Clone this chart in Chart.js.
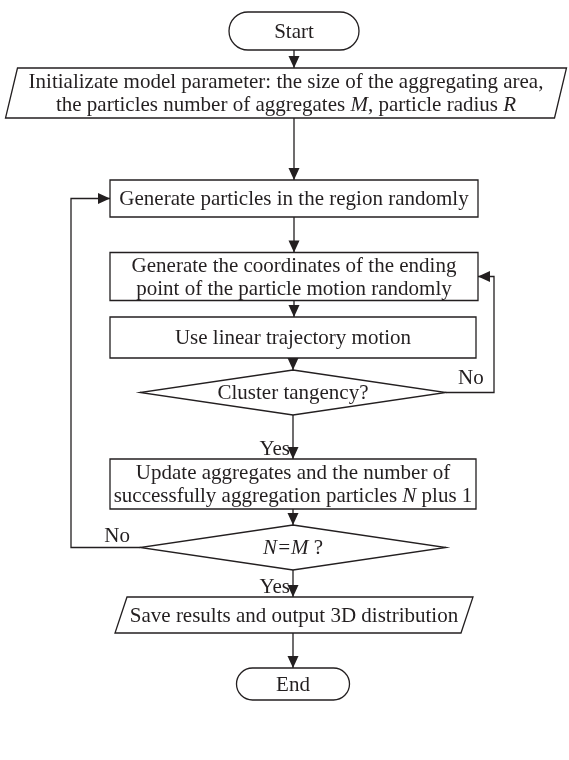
<!DOCTYPE html>
<html>
<head>
<meta charset="utf-8">
<script src="https://cdn.jsdelivr.net/npm/chart.js@4.4.0/dist/chart.umd.min.js"></script>
<style>
  html, body { margin: 0; padding: 0; background: #fff; }
  #wrap { width: 569px; height: 760px; }
</style>
</head>
<body>
<div id="wrap"><canvas id="myChart" width="569" height="760"></canvas></div>
<script>
'use strict';

// steps of the flowchart, top to bottom (_x_ = italic)
let stepLabels = [
  ['Start'],
  ['Initializate model parameter: the size of the aggregating area,', 'the particles number of aggregates _M_, particle radius _R_'],
  ['Generate particles in the region randomly'],
  ['Generate the coordinates of the ending', 'point of the particle motion randomly'],
  ['Use linear trajectory motion'],
  ['Cluster tangency?'],
  ['Update aggregates and the number of', 'successfully aggregation particles _N_ plus 1'],
  ['_N=M_ ?'],
  ['Save results and output 3D distribution'],
  ['End']
];
let stepKinds = ['term', 'io', 'box', 'box', 'box', 'dec', 'box', 'dec', 'io', 'term'];

// links between steps: [from, to, branch label]
let linkFrom = [0, 1, 2, 3, 4, 5, 6, 7, 8, 5, 7];
let linkTo = [1, 2, 3, 4, 5, 6, 7, 8, 9, 3, 2];
let linkText = ['', '', '', '', '', 'Yes', '', 'Yes', '', 'No', 'No'];

// layout (chart units = pixels)
let layoutX = [294, 286, 294, 294, 293, 293, 293, 293, 294, 293];
let layoutY = [31, 93, 198.5, 276.5, 337.5, 392.5, 484, 547.5, 615, 684];
let layoutW = [130, 561, 368, 368, 366, 306, 366, 306, 358, 113];
let layoutH = [38, 50, 37, 48, 41, 45, 50, 45, 36, 32];
let loopX = { 9: 494, 10: 71 };

const INK = '#231f20';
const FONT = '21px "Liberation Serif", "Times New Roman", serif';
const IFONT = 'italic 21px "Liberation Serif", "Times New Roman", serif';

function buildLinks() {
  let sets = [];
  for (let i = 0; i < linkFrom.length; i++) {
    let a = linkFrom[i], b = linkTo[i];
    let pts;
    if (loopX[i] === undefined) {
      let ax = linkAxis(a, b);
      pts = [
        { x: ax, y: layoutY[a] + layoutH[a] / 2 },
        { x: ax, y: layoutY[b] - layoutH[b] / 2 }
      ];
    } else {
      let lx = loopX[i];
      let right = lx > layoutX[a];
      let sx = right ? layoutX[a] + layoutW[a] / 2 : layoutX[a] - layoutW[a] / 2;
      let ex = right ? layoutX[b] + layoutW[b] / 2 : layoutX[b] - layoutW[b] / 2;
      pts = [
        { x: sx, y: layoutY[a] },
        { x: lx, y: layoutY[a] },
        { x: lx, y: layoutY[b] },
        { x: ex, y: layoutY[b] }
      ];
    }
    sets.push({
      type: 'scatter',
      data: pts,
      showLine: true,
      borderColor: INK,
      borderWidth: 1.3,
      pointRadius: 0,
      tension: 0,
      linkIndex: i
    });
  }
  return sets;
}

// vertical links follow the centre of the narrower shape
function linkAxis(a, b) {
  return stepKinds[a] === 'io' ? layoutX[b] : layoutX[a];
}

function richWidth(ctx, line) {
  let parts = line.split('_');
  let w = 0;
  for (let k = 0; k < parts.length; k++) {
    ctx.font = k % 2 ? IFONT : FONT;
    w += ctx.measureText(parts[k]).width;
  }
  return w;
}

function drawRich(ctx, line, cx, cy) {
  let parts = line.split('_');
  let x = cx - richWidth(ctx, line) / 2;
  ctx.textBaseline = 'middle';
  ctx.textAlign = 'left';
  for (let k = 0; k < parts.length; k++) {
    ctx.font = k % 2 ? IFONT : FONT;
    ctx.fillText(parts[k], x, cy);
    x += ctx.measureText(parts[k]).width;
  }
}

const flowPlugin = {
  id: 'flow',
  afterDatasetsDraw(chart) {
    let ctx = chart.ctx;
    let xs = chart.scales.x, ys = chart.scales.y;
    ctx.save();
    ctx.strokeStyle = INK;
    ctx.fillStyle = INK;
    ctx.lineWidth = 1.3;

    // arrow heads
    chart.data.datasets.forEach(function (ds) {
      if (ds.linkIndex === undefined) return;
      let n = ds.data.length;
      let p1 = ds.data[n - 2], p2 = ds.data[n - 1];
      let x1 = xs.getPixelForValue(p1.x), y1 = ys.getPixelForValue(p1.y);
      let x2 = xs.getPixelForValue(p2.x), y2 = ys.getPixelForValue(p2.y);
      let ang = Math.atan2(y2 - y1, x2 - x1);
      let len = 12, half = 5.5;
      ctx.beginPath();
      ctx.moveTo(x2, y2);
      ctx.lineTo(x2 - len * Math.cos(ang) + half * Math.sin(ang), y2 - len * Math.sin(ang) - half * Math.cos(ang));
      ctx.lineTo(x2 - len * Math.cos(ang) - half * Math.sin(ang), y2 - len * Math.sin(ang) + half * Math.cos(ang));
      ctx.closePath();
      ctx.fill();
    });

    // shapes
    for (let i = 0; i < stepLabels.length; i++) {
      let cx = xs.getPixelForValue(layoutX[i]);
      let cy = ys.getPixelForValue(layoutY[i]);
      let w = layoutW[i], h = layoutH[i];
      let l = cx - w / 2, t = cy - h / 2;
      ctx.beginPath();
      if (stepKinds[i] === 'box') {
        ctx.rect(l, t, w, h);
      } else if (stepKinds[i] === 'term') {
        let r = h / 2;
        ctx.moveTo(l + r, t);
        ctx.lineTo(l + w - r, t);
        ctx.arc(l + w - r, cy, r, -Math.PI / 2, Math.PI / 2);
        ctx.lineTo(l + r, t + h);
        ctx.arc(l + r, cy, r, Math.PI / 2, Math.PI * 1.5);
      } else if (stepKinds[i] === 'io') {
        let s = 12;
        ctx.moveTo(l + s, t);
        ctx.lineTo(l + w, t);
        ctx.lineTo(l + w - s, t + h);
        ctx.lineTo(l, t + h);
        ctx.closePath();
      } else {
        ctx.moveTo(cx, t);
        ctx.lineTo(l + w, cy);
        ctx.lineTo(cx, t + h);
        ctx.lineTo(l, cy);
        ctx.closePath();
      }
      ctx.fillStyle = '#fff';
      ctx.fill();
      ctx.stroke();

      ctx.fillStyle = INK;
      let lines = stepLabels[i];
      let gap = 23;
      for (let k = 0; k < lines.length; k++) {
        drawRich(ctx, lines[k], cx, cy + (k - (lines.length - 1) / 2) * gap + 1);
      }
    }

    // branch labels
    ctx.font = FONT;
    ctx.fillStyle = INK;
    ctx.textBaseline = 'middle';
    for (let i = 0; i < linkText.length; i++) {
      if (!linkText[i]) continue;
      let a = linkFrom[i], b = linkTo[i];
      let px, py;
      if (linkText[i] === 'Yes') {
        ctx.textAlign = 'right';
        px = layoutX[a] - 3;
        py = layoutY[b] - layoutH[b] / 2 - 10;
      } else if (loopX[i] > layoutX[a]) {
        ctx.textAlign = 'left';
        px = layoutX[a] + layoutW[a] / 2 + 12;
        py = layoutY[a] - 14;
      } else {
        ctx.textAlign = 'right';
        px = layoutX[a] - layoutW[a] / 2 - 10;
        py = layoutY[a] - 11;
      }
      ctx.fillText(linkText[i], xs.getPixelForValue(px), ys.getPixelForValue(py));
    }
    ctx.restore();
  }
};

let datasets = buildLinks();
datasets.push({
  type: 'scatter',
  label: 'steps',
  data: stepLabels.map(function (s, i) { return { x: layoutX[i], y: layoutY[i] }; }),
  pointRadius: 0
});

const myChart = new Chart(document.getElementById('myChart'), {
  type: 'scatter',
  data: { datasets: datasets },
  options: {
    responsive: false,
    animation: false,
    layout: { padding: 0 },
    plugins: { legend: { display: false }, tooltip: { enabled: false } },
    scales: {
      x: { type: 'linear', min: 0, max: 569, display: false },
      y: { type: 'linear', min: 0, max: 760, reverse: true, display: false }
    }
  },
  plugins: [flowPlugin]
});
</script>
</body>
</html>
